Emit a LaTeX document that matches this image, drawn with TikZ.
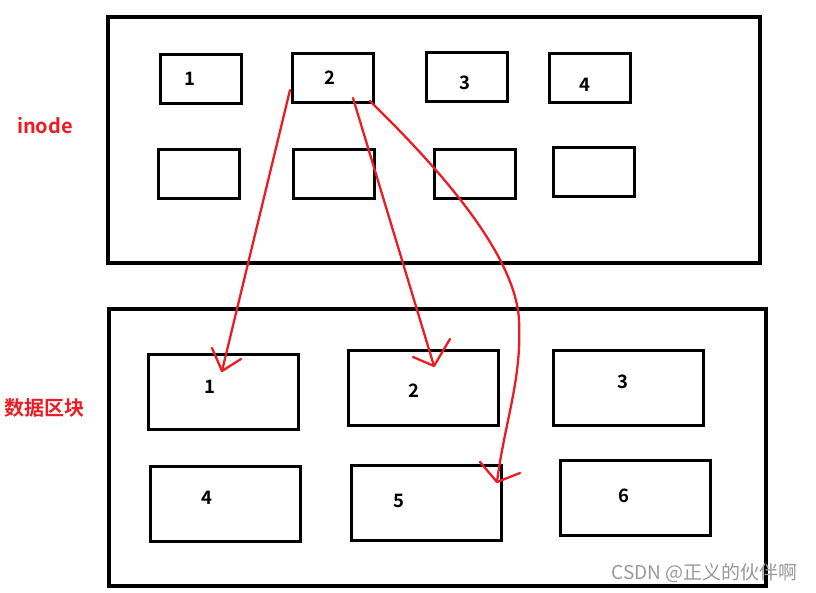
\documentclass[tikz,border=0pt]{standalone}
\usepackage{fontspec}
\setmainfont{Liberation Sans}
\newfontfamily\cjk{Noto Sans CJK SC}
\newfontfamily\cjkb{Noto Sans CJK SC Bold}
\definecolor{pred}{RGB}{237,28,36}
\begin{document}
\begin{tikzpicture}[x=1pt,y=-1pt,
  outer/.style={draw=black,line width=4pt},
  small/.style={draw=black,line width=3pt},
  num/.style={font=\cjkb\fontsize{18.5}{18.5}\selectfont,text=black},
  lbl/.style={font=\cjkb\fontsize{20}{20}\selectfont,text=pred},
  red/.style={draw=pred,line width=2.3pt,line join=round,line cap=round}]
\useasboundingbox[fill=white] (0,0) rectangle (816,593);
% outer frames
\draw[outer] (108,17) rectangle (760,263);
\draw[outer] (109,309) rectangle (766,586);
% inode boxes
\draw[small] (160,55) rectangle (241,104);
\draw[small] (292,54) rectangle (373,103);
\draw[small] (426,53) rectangle (507,102);
\draw[small] (549,54) rectangle (630,103);
\draw[small] (158,150) rectangle (239,199);
\draw[small] (293,150) rectangle (374,199);
\draw[small] (434,150) rectangle (515,199);
\draw[small] (553,148) rectangle (634,197);
\node[num] (i1) at (190,79) {1};
\node[num] (i2) at (330,78) {2};
\node[num] (i3) at (465,83) {3};
\node[num] (i4) at (585,85) {4};
% data boxes
\draw[small] (148,354) rectangle (298,429);
\draw[small] (348,350) rectangle (498,425);
\draw[small] (553,350) rectangle (703,425);
\draw[small] (150,466) rectangle (300,541);
\draw[small] (351,465) rectangle (501,540);
\draw[small] (560,460) rectangle (710,535);
\node[num] (d1) at (210,387) {1};
\node[num] (d2) at (414,391) {2};
\node[num] (d3) at (623,382) {3};
\node[num] (d4) at (207,498) {4};
\node[num] (d5) at (399,501) {5};
\node[num] (d6) at (624,496) {6};
% labels
\node[lbl] (linode) at (45,126) {inode};
\node[lbl] (ldata) at (45,408) {数据区块};
% arrows
\coordinate (s1) at (290,90);
\coordinate (e1) at (222,371);
\coordinate (s2) at (353,98);
\coordinate (e2) at (434,366);
\coordinate (s3) at (370,101);
\coordinate (e3) at (497,482);
\draw[red] (s1) -- (e1);
\draw[red] (212,348) -- (e1) -- (241,359);
\draw[red] (s2) -- (e2);
\draw[red] (413,357) -- (e2) -- (450,339);
\draw[red] (s3) .. controls (430,160) and (515,250) .. (519,320)
  .. controls (522,380) and (505,420) .. (e3);
\draw[red] (480,462) -- (e3) -- (520,473);
% watermark
\node[font=\cjk\fontsize{19}{19}\selectfont,text=black!40,anchor=east] (wm) at (801,573) {CSDN @正义的伙伴啊};
\end{tikzpicture}
\end{document}
